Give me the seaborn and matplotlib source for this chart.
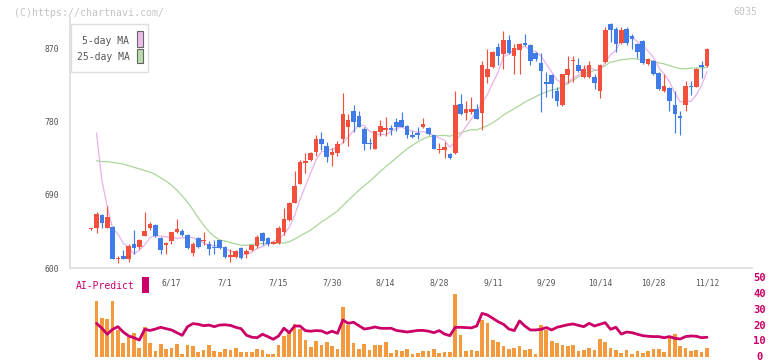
import numpy as np
import pandas as pd
import matplotlib
matplotlib.use("Agg")
import matplotlib.pyplot as plt
import seaborn as sns
from matplotlib.patches import Rectangle
from matplotlib.transforms import blended_transform_factory

nan = np.nan
# ---------------- data ----------------
opens = [648, 650, 665, 650, 651, 611, 615, 611, 630, 626,
         640, 650, 653, 637, 629, 633, 644, 646, 641, 619,
         637, 634, 630, 626, 634.5, 626, 614, 614, 625, 618,
         622, 627, 643.5, 637, 630, 631, 645, 659, 680.5, 704,
         729, 733, 743, 759, 750, 738.5, 741, 759, 773, 793.6,
         787, 771, 754, 747, 767, 770, 772, 780, 782.5, 775,
         763, 766, 774, 772, 763, 745, 745.5, 740, 741, 802,
         791, 792, 795, 791, 835, 847, 871, 863, 880, 861,
         868, 876, 874, 864, 852, 829, 837, 817.5, 800.5, 837,
         854, 849, 835, 835, 835, 817.5, 853, 900, 894, 876,
         894, 884.5, 875, 879, 851, 855, 840, 817.5, 821.5, 801,
         787, 801, 824, 822.7, 850, 848]
highs = [649, 669, 667, 676, 652, 615, 623, 630, 647, 636,
         669, 657, 654, 638, 632, 645, 660, 648, 642, 632,
         638, 644, 634, 634.5, 635, 627, 624, 622, 626, 624,
         629, 640.6, 644, 638, 633, 651.5, 674, 681, 720, 733,
         741, 743, 764, 767.5, 754.5, 747.6, 756, 815, 789, 801,
         793, 773, 760, 769, 782.5, 786, 776, 785, 792, 776,
         768, 774, 785, 773, 764, 754, 754.5, 742, 817.5, 814,
         805, 810.6, 802, 854, 868.7, 867, 876, 891, 886, 875,
         876, 888, 875, 865, 864, 841, 838, 822, 839, 861,
         861, 858, 850, 855, 839, 851, 896, 901, 896, 896,
         896, 887, 876.5, 880, 858, 856, 841, 838, 823, 817.5,
         793, 830, 830, 846, 854, 870]
lows = [647, 643, 649, 649.5, 611, 606, 611, 608, 618, 624,
        639.5, 647, 638, 617, 618, 630, 643, 640, 624, 615,
        625, 628, 616, 618, 624, 613, 608, 613, 612, 613,
        621, 625, 629, 627, 629.5, 630, 641, 658, 680, 703,
        717, 732, 738, 745.5, 731, 726, 738, 754, 750, 767,
        773, 745, 746, 746, 762, 762, 764, 769, 773, 760,
        760, 759, 772, 764, 746.5, 741, 735, 734, 740, 788,
        782.5, 789, 783, 770, 827.6, 846, 849, 845, 863, 838,
        838, 873, 849, 855, 791.5, 810, 809, 799, 799, 828,
        829, 841, 834, 833, 819.5, 808.5, 852, 878, 865.6, 875,
        874, 869, 857.5, 851, 850, 837, 819, 816, 793, 766,
        764, 793, 813, 822, 833, 847]
closes = [648.3, 667, 656, 663, 611.5, 612, 612, 627, 625.5, 634.5,
          646, 654, 640, 622, 630.5, 644, 648.5, 641, 625, 630,
          626, 635, 624, 625, 625, 614, 616, 621, 613, 621,
          628, 638.6, 634, 630, 632, 650, 660, 680.5, 701.5, 730,
          732, 742, 759, 752, 736, 742.6, 753, 789, 782.5, 779,
          774, 752, 753, 768, 775, 772, 770, 774, 774, 763,
          761, 763.6, 777.5, 765, 747, 747, 749, 735, 801, 789.5,
          795, 795, 783.6, 849, 844, 866, 860, 880, 864, 870,
          875, 874, 855, 856.5, 842, 826, 826, 805, 838, 844,
          855, 842, 845, 849, 828, 850, 892, 892, 875, 892,
          877, 882, 865, 852, 857, 838, 820, 824, 805, 789,
          784, 824, 822, 845, 847, 869]
volume = [nan,
          35.6, 24.9, 24.2, 35.6, 17.3, 9.3, 12.7, 15.4, 5.9, 19.2,
          9.1, 4.0, 8.4, 5.3, 5.9, 8.4, 2.1, 7.8, 7.2, 3.4,
          4.6, 7.8, 4.0, 3.4, 5.3, 4.6, 5.9, 3.4, 3.4, 3.4,
          5.3, 4.6, 2.1, 2.1, 7.8, 13.5, 16.6, 21.1, 17.9, 10.9,
          6.5, 10.3, 7.8, 9.7, 7.2, 5.3, 31.8, 20.4, 9.1, 5.3,
          8.4, 4.6, 7.8, 7.8, 9.8, 2.9, 4.4, 4.0, 5.3, 2.1,
          2.7, 4.0, 4.0, 5.3, 2.9, 3.5, 3.5, 40.1, 14.1, 4.2,
          4.6, 4.0, 23.6, 21.9, 10.9, 9.9, 7.2, 5.3, 5.9, 7.2,
          4.6, 5.3, 2.1, 20.4, 17.3, 10.3, 9.1, 7.8, 7.2, 7.8,
          4.0, 4.6, 5.9, 4.6, 11.6, 9.7, 5.9, 4.6, 2.7, 4.6,
          2.1, 4.0, 2.7, 4.0, 5.3, 5.3, 3.4, 13.1, 14.7, 7.2,
          5.9, 4.0, 4.6, 3.4, 5.9]
ai_predict = [nan,
              21.5, 18.4, 14.6, 17.7, 19.4, 16.0, 13.5, 12.4, 10.9, 17.7,
              17.0, 17.9, 19.0, 18.1, 17.3, 15.6, 13.9, 19.4, 21.3, 20.9,
              20.0, 20.4, 19.4, 20.4, 20.6, 20.2, 19.0, 18.1, 14.0, 12.7,
              12.4, 14.6, 13.1, 11.4, 13.5, 18.4, 15.6, 19.8, 19.8, 16.9,
              16.5, 16.9, 16.7, 15.2, 16.5, 15.2, 23.6, 21.5, 22.2, 20.0,
              17.9, 18.4, 19.2, 18.4, 18.3, 18.4, 17.0, 16.5, 16.0, 16.5,
              17.0, 17.0, 16.5, 15.6, 16.9, 14.7, 13.7, 19.0, 19.0, 18.8,
              18.6, 19.8, 27.8, 26.8, 24.7, 22.5, 20.9, 17.9, 16.9, 23.0,
              19.8, 17.3, 17.3, 17.7, 18.8, 17.3, 19.0, 19.8, 20.6, 21.1,
              20.2, 19.4, 21.5, 19.8, 20.9, 21.9, 17.7, 19.0, 14.7, 16.0,
              15.6, 14.6, 13.7, 13.3, 13.1, 13.1, 12.4, 13.1, 12.0, 11.6,
              13.1, 13.5, 13.3, 12.4, 12.7]
# moving-average values before enough closes are on the chart
ma5_lead = [nan, 766, 708, 676]
ma25_lead = [nan, 732, 731, 731, 730, 729, 728, 726, 724, 722,
             720, 718, 715, 711, 707, 702, 696, 689, 681, 672,
             662, 653, 645, 639]
date_labels = ["6/17", "7/1", "7/15", "7/30", "8/14", "8/28",
               "9/11", "9/29", "10/14", "10/28", "11/12"]
date_pos = [15, 25, 35, 45, 55, 65, 75, 85, 95, 105, 115]
price_ticks = [600, 690, 780, 870]
ai_ticks = [0, 10, 20, 30, 40, 50]

# ---------------- styling ----------------
sns.set_theme(style="white")
plt.rcParams["font.family"] = ["DejaVu Sans Mono", "DejaVu Sans"]

UP, DOWN = "#f24f3d", "#3f7ce8"
GRID = "#dedede"
TXT = "#555555"
MAG = "#cc0066"
W, H = 772, 361

df = pd.DataFrame({"open": opens, "high": highs, "low": lows, "close": closes})
df["idx"] = np.arange(len(df))
c = df["close"]
ma5 = c.rolling(5).mean()
ma5.iloc[:len(ma5_lead)] = ma5_lead
ma25 = c.rolling(25).mean()
ma25.iloc[:len(ma25_lead)] = ma25_lead
df["ma5"] = ma5.values
df["ma25"] = ma25.values
df["volume"] = volume
df["ai"] = ai_predict

fig = plt.figure(figsize=(W / 100, H / 100), dpi=100)
fig.patch.set_facecolor("white")

xlim = (-3.95, 123.41)
ax = fig.add_axes([70 / W, 1 - 268.3 / H, 682 / W, 250.3 / H])
ax.set_xlim(*xlim)
ax.set_ylim(600, 907.2)

sns.lineplot(data=df, x="idx", y="ma25", ax=ax, color="#a9d69a", lw=0.9, zorder=1)
sns.lineplot(data=df, x="idx", y="ma5", ax=ax, color="#e9b2ea", lw=0.9, zorder=1)

colors = np.where(df["close"] >= df["open"], UP, DOWN)
ax.vlines(df["idx"], df["low"], df["high"], colors=colors, lw=0.85, zorder=2)
body_lo = np.minimum(df["open"], df["close"])
body_h = np.maximum(np.abs(df["close"] - df["open"]), 1.3)
ax.bar(df["idx"], body_h, bottom=body_lo, width=0.86, color=colors, lw=0, zorder=3)

for s in ["top", "right"]:
    ax.spines[s].set_visible(False)
for s in ["left", "bottom"]:
    ax.spines[s].set_color(GRID)
    ax.spines[s].set_linewidth(1.3)
ax.set_xticks(np.linspace(xlim[0], xlim[1], 12))
ax.set_xticklabels([])
ax.set_yticks(price_ticks)
ax.set_yticklabels([str(t) for t in price_ticks])
ax.tick_params(axis="x", direction="inout", length=6, width=1.3, color=GRID)
ax.tick_params(axis="y", direction="inout", length=5.5, width=1.0, color=GRID,
               labelsize=5.8, labelcolor=TXT, pad=5.4)
ax.set_xlabel("")
ax.set_ylabel("")
ax.grid(False)

tr = blended_transform_factory(ax.transData, ax.transAxes)
for lab, p in zip(date_labels, date_pos):
    ax.text(p, -0.059, lab, transform=tr, ha="center", va="center",
            fontsize=5.8, color=TXT)

# volume / AI panel
ax2 = fig.add_axes([70 / W, 1 - 357.3 / H, 682 / W, 79 / H])
ax2.set_xlim(*xlim)
ax2.set_ylim(0, 50)
ax2.bar(df["idx"], df["volume"], width=0.69, color="#f39a3f", lw=0, zorder=1)
sns.lineplot(data=df, x="idx", y="ai", ax=ax2, color=MAG, lw=2.0, zorder=2)
ax2.set_axis_off()
tr2 = blended_transform_factory(ax2.transAxes, ax2.transData)
for t in ai_ticks:
    ax2.text(1.011, t, str(t), transform=tr2, ha="center", va="center",
             fontsize=7.6, color=MAG, fontweight="bold", clip_on=False)

# header texts
fig.text(14 / W, 1 - 12.7 / H, "(C)https://chartnavi.com/", fontsize=7.1,
         color="#c4c4c4", ha="left", va="center")
fig.text(757 / W, 1 - 12 / H, "6035", fontsize=7.1, color="#c4c4c4",
         ha="right", va="center")

# legend box
def frect(x0, y0, x1, y1, **kw):
    r = Rectangle((x0 / W, 1 - y1 / H), (x1 - x0) / W, (y1 - y0) / H,
                  transform=fig.transFigure, **kw)
    fig.add_artist(r)

frect(70.5, 24, 148.3, 71.7, facecolor="white", edgecolor=GRID, lw=1.0, zorder=10)
frect(136.5, 31.3, 142.5, 46.5, facecolor="#ecbbec", edgecolor="#666666", lw=0.8, zorder=11)
frect(136.5, 48.5, 142.5, 63.3, facecolor="#b9dcaa", edgecolor="#666666", lw=0.8, zorder=11)
fig.text(129.5 / W, 1 - 40.7 / H, "5-day MA", fontsize=7, color=TXT,
         ha="right", va="center", zorder=12)
fig.text(129.5 / W, 1 - 57.3 / H, "25-day MA", fontsize=7, color=TXT,
         ha="right", va="center", zorder=12)

# AI-Predict label
fig.text(76 / W, 1 - 286 / H, "AI-Predict", fontsize=7, color=MAG,
         ha="left", va="center")
frect(141.7, 276.7, 149, 292.7, facecolor=MAG, edgecolor="none", zorder=10)

fig.savefig("out.png", dpi=100, facecolor="white")
